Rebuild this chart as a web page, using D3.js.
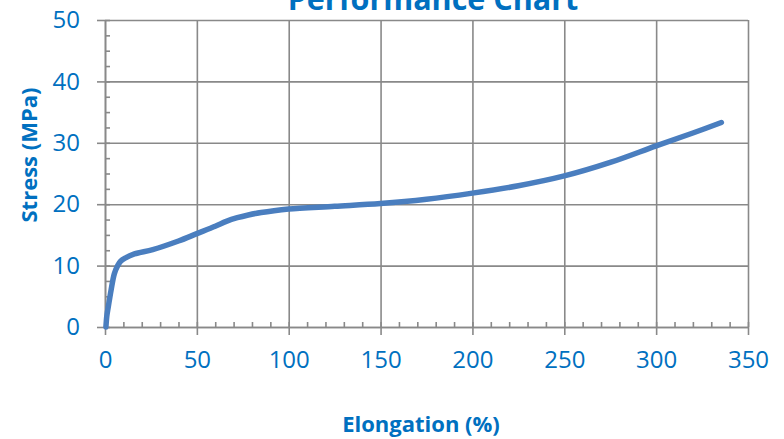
<!DOCTYPE html>
<html lang="en">
<head>
    <meta charset="UTF-8">
    <title>Performance Chart</title>
    <style>
        body { margin: 0; background: #fff; }
        svg { display: block; font-family: "Open Sans", sans-serif; }
        .grid line { stroke: #898989; stroke-width: 1.6; }
        .grid path { display: none; }
        .axis path, .axis line { stroke: #898989; stroke-width: 1.6; }
        .axis text { fill: #0070C0; font-size: 24px; }
        .title { fill: #0070C0; font-weight: bold; }
        .curve { fill: none; stroke: #4A7EBF; stroke-width: 5.5; stroke-linecap: round; stroke-linejoin: round; }
    </style>
</head>
<body>
    <svg width="784" height="439"></svg>
    <script src="https://d3js.org/d3.v7.min.js"></script>
    <script>
        // elongation (%) and stress (MPa)
        const elongation = [0.5, 1, 1.8, 3.3, 5.1, 6.9, 8.5, 10.9, 16, 26, 40, 50, 60, 66, 72, 78, 85, 92, 100,
                            125, 150, 175, 200, 225, 250, 275, 300, 320, 335.5];
        const stress = [0, 1.8, 3.3, 6, 8.7, 10, 10.7, 11.2, 11.9, 12.6, 14, 15.2, 16.4, 17.2, 17.8, 18.25, 18.65, 18.95, 19.2,
                        19.65, 20.1, 20.8, 21.8, 23, 24.6, 26.8, 29.5, 31.6, 33.3];
        const xTicks = [0, 50, 100, 150, 200, 250, 300, 350];
        const yTicks = [0, 10, 20, 30, 40, 50];

        const plotLeft = 105, plotRight = 748, plotTop = 20, plotBottom = 327;
        const w = plotRight - plotLeft, h = plotBottom - plotTop;

        const svg = d3.select("svg");

        const x = d3.scaleLinear().domain([0, 350]).range([plotLeft, plotRight]);
        const y = d3.scaleLinear().domain([0, 50]).range([plotBottom, plotTop]);

        // grid lines
        svg.append("g")
            .attr("class", "grid")
            .attr("transform", `translate(0,${plotBottom})`)
            .call(d3.axisBottom(x).tickValues(xTicks).tickSize(-h).tickFormat(""));
        svg.append("g")
            .attr("class", "grid")
            .attr("transform", `translate(${plotLeft},0)`)
            .call(d3.axisLeft(y).tickValues(yTicks).tickSize(-w).tickFormat(""));

        // minor ticks, pointing inside
        svg.append("g")
            .attr("class", "axis")
            .attr("transform", `translate(0,${plotBottom})`)
            .call(d3.axisBottom(x).tickValues(d3.range(0, 351, 10)).tickSize(-5).tickSizeOuter(0).tickFormat(""));
        svg.append("g")
            .attr("class", "axis")
            .attr("transform", `translate(${plotLeft},0)`)
            .call(d3.axisLeft(y).tickValues(d3.range(0, 50.1, 2.5)).tickSize(-5).tickSizeOuter(0).tickFormat(""));

        // major ticks with labels
        const xAxis = svg.append("g")
            .attr("class", "axis")
            .attr("transform", `translate(0,${plotBottom})`)
            .call(d3.axisBottom(x).tickValues(xTicks).tickSize(8).tickSizeOuter(0).tickPadding(16));
        xAxis.select(".domain").remove();
        const yAxis = svg.append("g")
            .attr("class", "axis")
            .attr("transform", `translate(${plotLeft},0)`)
            .call(d3.axisLeft(y).tickValues(yTicks).tickSize(8).tickSizeOuter(0).tickPadding(17));
        yAxis.select(".domain").remove();
        svg.selectAll(".axis text").attr("font-family", "Open Sans");

        // curve
        const points = elongation.map((e, i) => [e, stress[i]]);
        svg.append("path")
            .datum(points)
            .attr("class", "curve")
            .attr("d", d3.line().x(d => x(d[0])).y(d => y(d[1])).curve(d3.curveCatmullRom.alpha(0.5)));

        // titles (main title sits partly above the top edge, as in the original)
        svg.append("text")
            .attr("class", "title")
            .attr("x", 433).attr("y", 10)
            .attr("text-anchor", "middle")
            .attr("font-size", 30.5)
            .text("Performance Chart");
        svg.append("text")
            .attr("class", "title")
            .attr("x", 421).attr("y", 432)
            .attr("text-anchor", "middle")
            .attr("font-size", 22)
            .text("Elongation (%)");
        svg.append("text")
            .attr("class", "title")
            .attr("transform", "translate(37,155) rotate(-90)")
            .attr("text-anchor", "middle")
            .attr("font-size", 22)
            .text("Stress (MPa)");
    </script>
</body>
</html>
